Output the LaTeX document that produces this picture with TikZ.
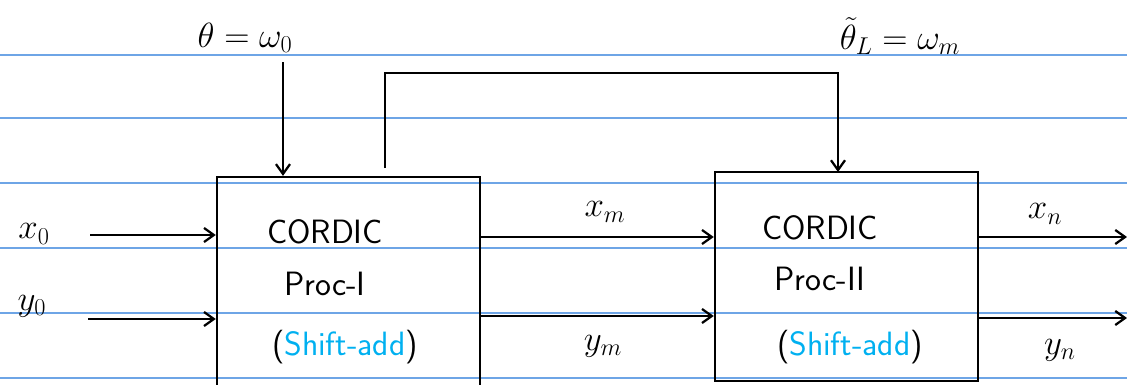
\documentclass[tikz,border=0pt]{standalone}
\usetikzlibrary{arrows.meta}
\definecolor{ruleblue}{RGB}{110,165,230}
\definecolor{shiftcyan}{RGB}{0,176,240}

\begin{document}
\begin{tikzpicture}[
    proc/.style={draw, line width=1.6pt, minimum width=6.575cm},
    proctext/.style={font=\fontsize{24}{28}\selectfont\sffamily},
    flow/.style={-{Straight Barb[length=7pt, width=10pt]}, line width=1.6pt},
    sig/.style={font=\fontsize{24}{28}\selectfont},
    ruling/.style={ruleblue, line width=0.8pt},
]
    \useasboundingbox (0, 0) rectangle (28.175, 9.6);
    \clip (0, 0) rectangle (28.175, 9.6);

    % paper lines
    \foreach \ry in {8.225, 6.65, 5.025, 3.4, 1.775, 0.15}
        \draw[ruling] (0, \ry) -- (28.175, \ry);

    \node[proc, minimum height=5.575cm] (proc1) at (8.71, 2.3875) {};
    \node[proc, minimum height=5.225cm] (proc2) at (21.16, 2.6875) {};

    \node[proctext] (cordic1) at (8.125, 3.8) {CORDIC};
    \node[proctext] (name1) at (8.125, 2.5) {Proc-I};
    \node[proctext] (kind1) at (8.625, 0.925) {(\textcolor{shiftcyan}{Shift-add})};
    \node[proctext] (cordic2) at (20.5, 3.9) {CORDIC};
    \node[proctext] (name2) at (20.5, 2.625) {Proc-II};
    \node[proctext] (kind2) at (21.25, 0.925) {(\textcolor{shiftcyan}{Shift-add})};

    \node[sig] (theta) at (6.125, 8.65) {$\theta = \omega_0$};
    \node[sig] (thetaL) at (22.5, 8.7) {$\tilde{\theta}_L = \omega_m$};
    \node[sig] (x0) at (0.85, 3.75) {$x_0$};
    \node[sig] (y0) at (0.8, 1.95) {$y_0$};
    \node[sig] (xm) at (15.125, 4.3) {$x_m$};
    \node[sig] (ym) at (15.075, 0.95) {$y_m$};
    \node[sig] (xn) at (26.125, 4.25) {$x_n$};
    \node[sig] (yn) at (26.5, 0.85) {$y_n$};

    \coordinate (thetain) at (7.075, 8.05);
    \coordinate (x0in) at (2.25, 3.725);
    \coordinate (y0in) at (2.2, 1.625);
    \coordinate (xnout) at (28.175, 3.675);
    \coordinate (ynout) at (28.175, 1.65);
    \coordinate (fbstart) at (9.625, 5.4);
    \coordinate (fbend) at (20.95, 5.3);

    % inputs
    \draw[flow] (thetain) -- (thetain |- proc1.north);
    \draw[flow] (x0in) -- (x0in -| proc1.west);
    \draw[flow] (y0in) -- (y0in -| proc1.west);

    % feedback of the angle
    \draw[line width=1.6pt] (fbstart) -- (9.625, 7.775) -- (20.95, 7.775)
        -- (fbend |- 0, 6.5);
    \draw[flow] (20.95, 6.5) -- (fbend);

    % between the stages
    \draw[flow] (proc1.east |- 0, 3.675) -- (proc2.west |- 0, 3.675);
    \draw[flow] (proc1.east |- 0, 1.7) -- (proc2.west |- 0, 1.7);

    % outputs
    \draw[flow] (proc2.east |- xnout) -- (xnout);
    \draw[flow] (proc2.east |- ynout) -- (ynout);
\end{tikzpicture}
\end{document}
